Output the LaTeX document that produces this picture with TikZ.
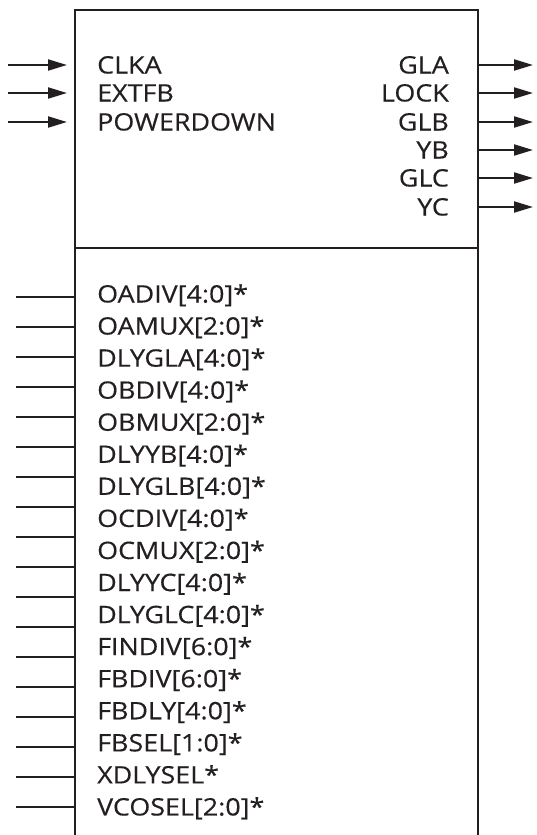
\documentclass[tikz,border=0pt]{standalone}
\usepackage{fontspec}
\setmainfont{Open Sans}
\newfontfamily\lblfont{Open Sans}[FakeStretch=1.12,FakeBold=0.4]
\usetikzlibrary{arrows.meta}
\definecolor{ink}{HTML}{231F20}
\begin{document}
\begin{tikzpicture}[x=1pt,y=-1pt,
  boxline/.style={draw=ink,line width=2pt},
  pinline/.style={draw=ink,line width=2pt},
  arr/.style={pinline,-{Triangle[length=19pt,width=11pt]}},
  lbl/.style={inner sep=0pt,text=ink,font=\lblfont\fontsize{24}{24}\selectfont}]
\useasboundingbox (0,0) rectangle (536,835);
% block outline (open at the bottom)
\draw[boxline] (74.5,835) -- (74.5,10) -- (477.5,10) -- (477.5,835);
\draw[boxline] (74.5,248) -- (477.5,248);
% inputs
\foreach \t/\yy [count=\i from 0] in {CLKA/65,EXTFB/93,POWERDOWN/122}{
  \node[lbl,anchor=base west] (in\i) at (97,\yy+8.5) {\t};
  \coordinate (is\i) at (8,\yy);
  \coordinate (it\i) at (67,\yy);
  \draw[arr] (is\i) -- (it\i);
}
% outputs
\foreach \t/\yy [count=\i from 0] in {GLA/65,LOCK/93,GLB/122,YB/150,GLC/178,YC/207}{
  \node[lbl,anchor=base east] (out\i) at (449,\yy+8.5) {\t};
  \coordinate (os\i) at (477.5,\yy);
  \coordinate (ot\i) at (533,\yy);
  \draw[arr] (os\i) -- (ot\i);
}
% configuration labels
\foreach \t [count=\i from 0] in {OADIV[4:0]*,OAMUX[2:0]*,DLYGLA[4:0]*,OBDIV[4:0]*,OBMUX[2:0]*,DLYYB[4:0]*,DLYGLB[4:0]*,OCDIV[4:0]*,OCMUX[2:0]*,DLYYC[4:0]*,DLYGLC[4:0]*,FINDIV[6:0]*,FBDIV[6:0]*,FBDLY[4:0]*,FBSEL[1:0]*,XDLYSEL*,VCOSEL[2:0]*}{
  \pgfmathsetmacro{\yy}{294+32.06*\i}
  \node[lbl,anchor=base west] (cfg\i) at (97,\yy+8.5) {\t};
}
% configuration pins
\foreach \i in {0,...,17}{
  \coordinate (ps\i) at (16,297+30*\i);
  \coordinate (pe\i) at (74.5,297+30*\i);
  \draw[pinline] (ps\i) -- (pe\i);
}
\end{tikzpicture}
\end{document}
